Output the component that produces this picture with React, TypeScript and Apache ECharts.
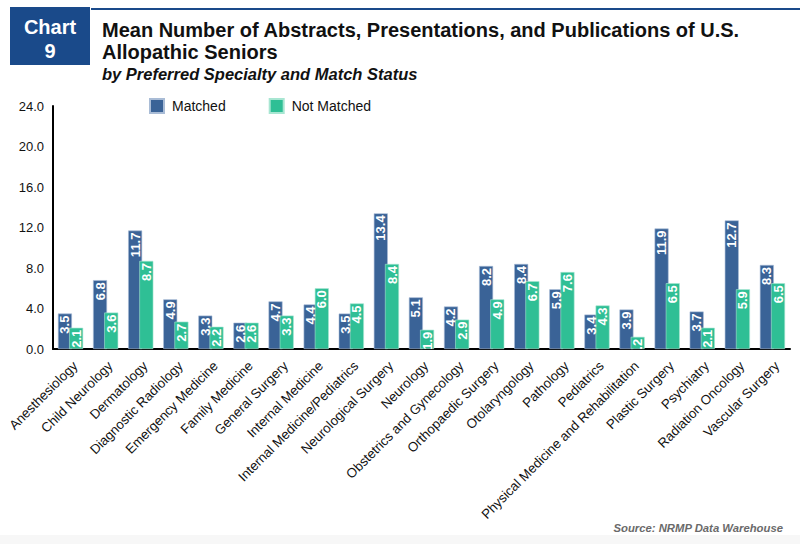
import React, { useEffect, useRef } from "react";
import * as echarts from "echarts";

const categories = [
  "Anesthesiology",
  "Child Neurology",
  "Dermatology",
  "Diagnostic Radiology",
  "Emergency Medicine",
  "Family Medicine",
  "General Surgery",
  "Internal Medicine",
  "Internal Medicine/Pediatrics",
  "Neurological Surgery",
  "Neurology",
  "Obstetrics and Gynecology",
  "Orthopaedic Surgery",
  "Otolaryngology",
  "Pathology",
  "Pediatrics",
  "Physical Medicine and Rehabilitation",
  "Plastic Surgery",
  "Psychiatry",
  "Radiation Oncology",
  "Vascular Surgery",
];

const matched = [3.5, 6.8, 11.7, 4.9, 3.3, 2.6, 4.7, 4.4, 3.5, 13.4, 5.1, 4.2, 8.2, 8.4, 5.9, 3.4, 3.9, 11.9, 3.7, 12.7, 8.3];
const notMatched = [2.1, 3.6, 8.7, 2.7, 2.2, 2.6, 3.3, 6.0, 4.5, 8.4, 1.9, 2.9, 4.9, 6.7, 7.6, 4.3, 1.2, 6.5, 2.1, 5.9, 6.5];

const yTicks = { min: 0, max: 24, interval: 4 };

const FONT = "Liberation Sans, Arial, Helvetica, sans-serif";
const BLUE = "#3a6397";
const GREEN = "#2fbf95";
const NAVY = "#1a4a8a";

export default function App() {
  const ref = useRef<HTMLDivElement>(null);

  useEffect(() => {
    if (!ref.current) return;
    const chart = echarts.init(ref.current, undefined, { renderer: "svg" });

    const label = {
      show: true,
      position: "insideTop",
      rotate: 90,
      align: "right",
      verticalAlign: "middle",
      distance: 2,
      color: "#ffffff",
      fontWeight: "bold",
      fontSize: 13,
      fontFamily: FONT,
      formatter: (p: any) => Number(p.value).toFixed(1),
    };

    chart.setOption({
      animation: false,
      backgroundColor: "#ffffff",
      textStyle: { fontFamily: FONT },
      graphic: [
        {
          type: "rect",
          shape: { x: 0, y: 535, width: 800, height: 9 },
          style: { fill: "#f7f7f7" },
          z: -1,
        },
        {
          type: "rect",
          shape: { x: 10, y: 7, width: 80, height: 58 },
          style: { fill: NAVY },
        },
        {
          type: "line",
          shape: { x1: 91, y1: 9, x2: 800, y2: 9 },
          style: { stroke: NAVY, lineWidth: 2 },
        },
        {
          type: "text",
          x: 50,
          y: 27,
          style: { text: "Chart", fill: "#ffffff", font: `bold 20px ${FONT}`, align: "center", verticalAlign: "middle" },
        },
        {
          type: "text",
          x: 50,
          y: 51,
          style: { text: "9", fill: "#ffffff", font: `bold 20px ${FONT}`, align: "center", verticalAlign: "middle" },
        },
        {
          type: "text",
          x: 102,
          y: 30,
          style: {
            text: "Mean Number of Abstracts, Presentations, and Publications of U.S.",
            fill: "#111111",
            font: `bold 20px ${FONT}`,
            verticalAlign: "middle",
          },
        },
        {
          type: "text",
          x: 102,
          y: 52,
          style: { text: "Allopathic Seniors", fill: "#111111", font: `bold 20px ${FONT}`, verticalAlign: "middle" },
        },
        {
          type: "text",
          x: 102,
          y: 74,
          style: {
            text: "by Preferred Specialty and Match Status",
            fill: "#111111",
            font: `italic bold 16.5px ${FONT}`,
            verticalAlign: "middle",
          },
        },
        {
          type: "text",
          x: 783,
          y: 528,
          style: {
            text: "Source: NRMP Data Warehouse",
            fill: "#6a6a6a",
            font: `italic bold 11.3px ${FONT}`,
            align: "right",
            verticalAlign: "middle",
          },
        },
      ],
      legend: {
        left: 149,
        top: 98,
        padding: 0,
        itemWidth: 14,
        itemHeight: 14,
        itemGap: 43,
        icon: "rect",
        textStyle: { fontSize: 14, color: "#111111", fontFamily: FONT, padding: [0, 0, 0, 3] },
        data: ["Matched", "Not Matched"],
      },
      grid: { left: 53, right: 10, top: 106, bottom: 195, containLabel: false },
      xAxis: {
        type: "category",
        data: categories,
        axisLine: { show: true, lineStyle: { color: "#000000", width: 2 } },
        axisTick: { show: false },
        axisLabel: {
          rotate: 45,
          interval: 0,
          fontSize: 13.3,
          color: "#111111",
          fontFamily: FONT,
          margin: 10,
          verticalAlign: "top",
        },
      },
      yAxis: {
        type: "value",
        min: yTicks.min,
        max: yTicks.max,
        interval: yTicks.interval,
        axisLine: { show: true, lineStyle: { color: "#000000", width: 2 } },
        axisTick: { show: false },
        splitLine: { show: false },
        axisLabel: {
          fontSize: 13,
          color: "#111111",
          fontFamily: FONT,
          margin: 9,
          formatter: (v: number) => v.toFixed(1),
        },
      },
      series: [
        {
          name: "Matched",
          type: "bar",
          data: matched,
          barWidth: 14,
          barGap: "-20%",
          itemStyle: { color: BLUE, borderColor: "#a9bcd6", borderWidth: 0.6 },
          label,
        },
        {
          name: "Not Matched",
          type: "bar",
          data: notMatched,
          barWidth: 14,
          barGap: "-20%",
          itemStyle: { color: GREEN, borderColor: "#a8e6d2", borderWidth: 0.6 },
          label,
        },
      ],
    });

    return () => chart.dispose();
  }, []);

  return (
    <div
      ref={ref}
      style={{ position: "fixed", left: 0, top: 0, width: 800, height: 544, background: "#ffffff" }}
    />
  );
}
